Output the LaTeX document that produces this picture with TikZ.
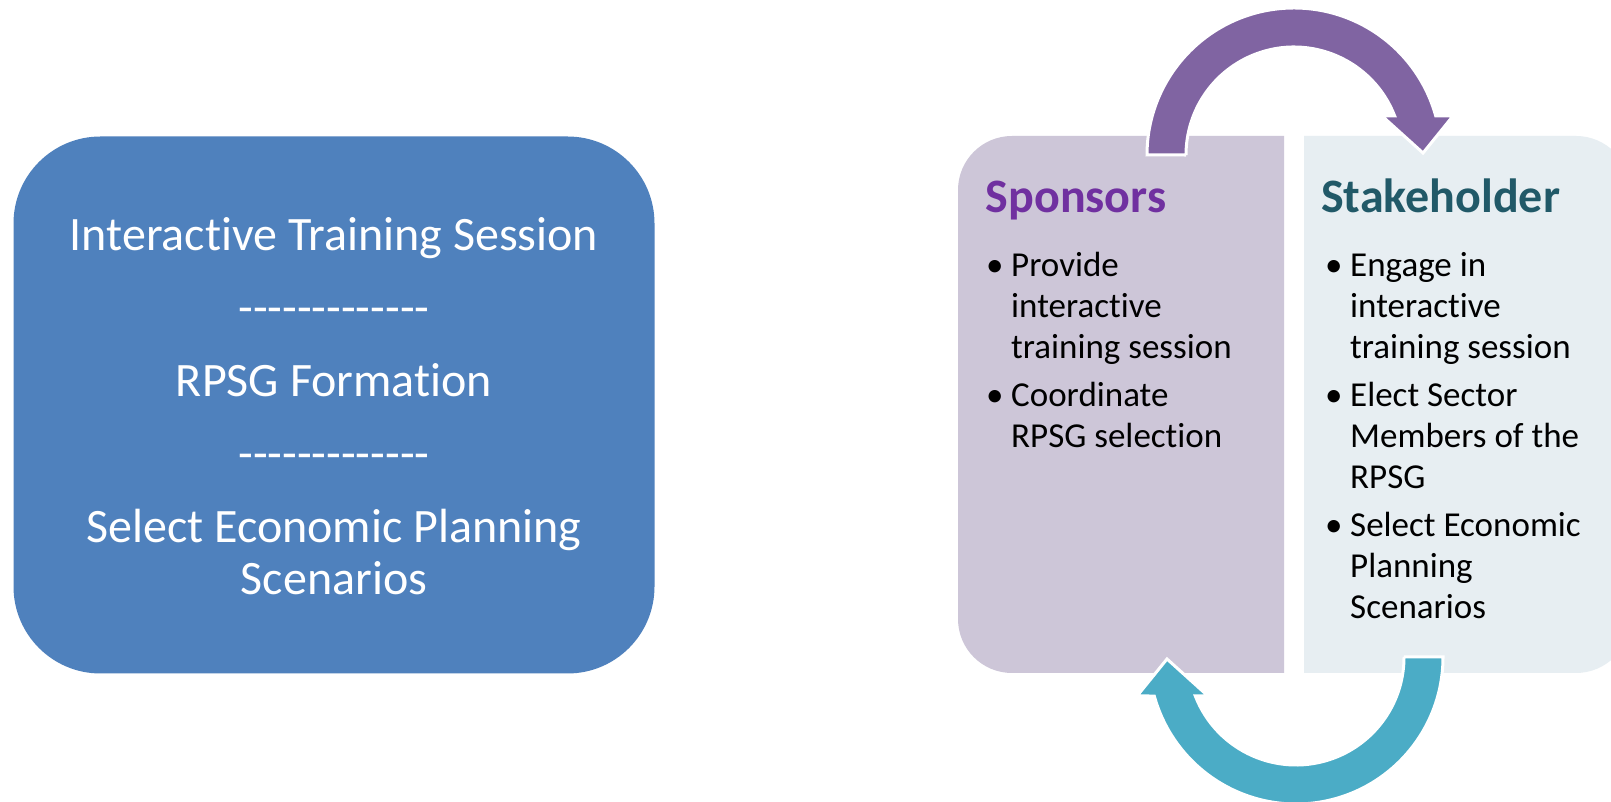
\documentclass[tikz,border=0pt]{standalone}
\usepackage{fontspec}
\setmainfont{Carlito}[Ligatures={TeXOff,NoCommon}]
\usepackage{array}

\definecolor{stepblue}{HTML}{4F81BD}
\definecolor{sponsorfill}{HTML}{CDC6D8}
\definecolor{holderfill}{HTML}{E7EEF2}
\definecolor{sponsorink}{HTML}{7030A0}
\definecolor{holderink}{HTML}{215968}
\definecolor{arrowpurple}{HTML}{8064A2}
\definecolor{arrowteal}{HTML}{4BACC6}

\tikzset{
  steptext/.style={anchor=base, inner sep=0pt, text=white,
    font=\fontsize{48}{52}\selectfont},
  roletitle/.style={anchor=base west, inner sep=0pt,
    font=\fontsize{48}{52}\selectfont\bfseries},
  rolebody/.style={anchor=base west, inner sep=0pt, text=black,
    font=\fontsize{35}{41}\selectfont},
  cyclearrow/.style={draw=white, line width=3pt, line join=miter},
}

% curved block arrow: tail on the left, head on the right, centred at (1294,647)
\newcommand{\cyclearrowpath}{%
  (1186,647) -- (1147,647)
  arc[start angle=180, end angle=15.39, radius=147]
  -- (1453,686) -- (1423,649) -- (1382,686) -- (1394.7,686)
  arc[start angle=21.17, end angle=180, radius=108] -- cycle}

\begin{document}
\begin{tikzpicture}[x=1pt,y=1pt]
\useasboundingbox (0,0) rectangle (1611,802);
\fill[white] (0,0) rectangle (1611,802);

% process steps box
\node[fill=stepblue, rounded corners=87pt, minimum width=641pt,
      minimum height=537pt, inner sep=0pt] (steps) at (334,397) {};
\node[steptext] (s1) at (334,551) {Interactive Training Session};
\node[steptext] (d1) at (334,478) {-------------};
\node[steptext] (s2) at (334,405) {RPSG Formation};
\node[steptext] (d2) at (334,332) {-------------};
\node[steptext] (s3) at (334,259) {Select Economic Planning};
\node[steptext] (s4) at (334,207) {Scenarios};

% role panels
\fill[sponsorfill] (1284,129) -- (1012,129)
  arc[start angle=270, end angle=180, radius=54] -- (958,612)
  arc[start angle=180, end angle=90, radius=54] -- (1284,666) -- cycle;
\fill[holderfill] (1304,129) -- (1576,129)
  arc[start angle=270, end angle=360, radius=54] -- (1630,612)
  arc[start angle=0, end angle=90, radius=54] -- (1304,666) -- cycle;

\node[roletitle, text=sponsorink] (sponsors) at (985.5,589.3) {Sponsors};
\node[roletitle, text=holderink] (holder) at (1321,589.3) {Stakeholder};

\node[rolebody] (sponsortasks) at (986,525.3) {%
  \begin{tabular}[t]{@{}p{25pt}@{}l@{}}
  • & Provide\\
    & interactive\\
    & training session\\[7pt]
  • & Coordinate\\
    & RPSG selection
  \end{tabular}};

\node[rolebody] (holdertasks) at (1325,525.3) {%
  \begin{tabular}[t]{@{}p{25pt}@{}l@{}}
  • & Engage in\\
    & interactive\\
    & training session\\[7pt]
  • & Elect Sector\\
    & Members of the\\
    & RPSG\\[7pt]
  • & Select Economic\\
    & Planning\\
    & Scenarios
  \end{tabular}};

% cycle arrows
\filldraw[cyclearrow, fill=arrowpurple] \cyclearrowpath;
\begin{scope}[rotate around={180:(1295,396)}]
  \filldraw[cyclearrow, fill=arrowteal] \cyclearrowpath;
\end{scope}
\end{tikzpicture}
\end{document}
